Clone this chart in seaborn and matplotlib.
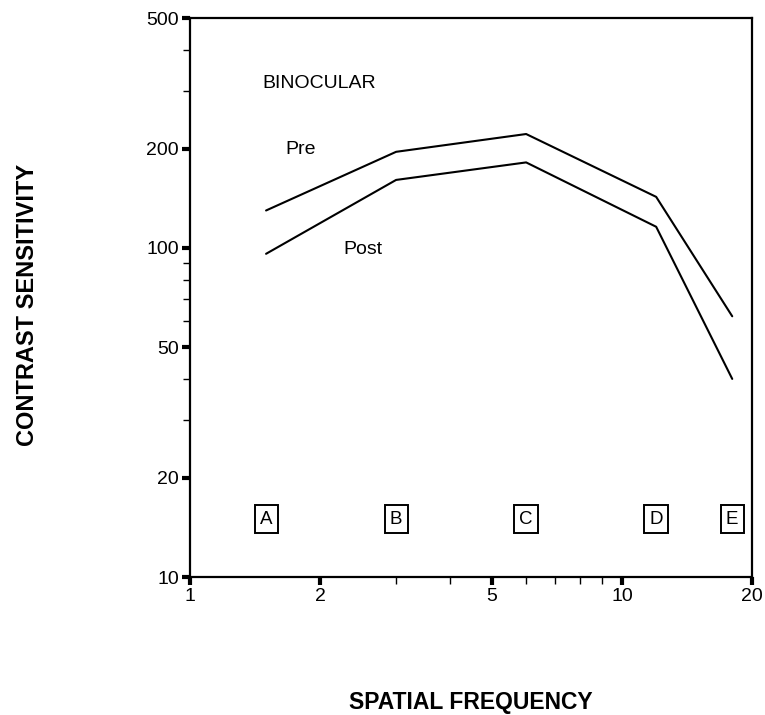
import numpy as np
import pandas as pd
import matplotlib
matplotlib.use("Agg")
import matplotlib.pyplot as plt
import seaborn as sns
from matplotlib.ticker import FixedLocator, NullFormatter

# Data
freq = [1.5, 3, 6, 12, 18]
pre = [130, 196, 222, 143, 62]
post = [96, 161, 182, 116, 40]
letters = ["A", "B", "C", "D", "E"]
letter_y = 15
x_ticks = [1, 2, 5, 10, 20]
y_ticks = [10, 20, 50, 100, 200, 500]

sns.set_theme(style="white")
plt.rcParams['font.family'] = ['Liberation Sans', 'DejaVu Sans']
plt.rcParams['text.color'] = 'black'

df = pd.DataFrame({
    "freq": freq * 2,
    "cs": pre + post,
    "cond": ["Pre"] * len(freq) + ["Post"] * len(freq),
})

fig = plt.figure(figsize=(7.65, 7.15), dpi=100)
ax = fig.add_axes([190/765, 1 - 577/715, (752-190)/765, (577-18)/715])

sns.lineplot(data=df, x="freq", y="cs", units="cond", estimator=None,
             color="black", linewidth=1.5, ax=ax, legend=False)

ax.set_xscale("log")
ax.set_yscale("log")
ax.set_xlim(1, 20)
ax.set_ylim(10, 500)

ax.xaxis.set_major_locator(FixedLocator(x_ticks))
ax.xaxis.set_minor_locator(FixedLocator([3, 4, 6, 7, 8, 9]))
ax.set_xticklabels([str(t) for t in x_ticks])
ax.xaxis.set_minor_formatter(NullFormatter())
ax.yaxis.set_major_locator(FixedLocator(y_ticks))
ax.yaxis.set_minor_locator(FixedLocator([30, 40, 60, 70, 80, 90, 300, 400]))
ax.set_yticklabels([str(t) for t in y_ticks])
ax.yaxis.set_minor_formatter(NullFormatter())

ax.tick_params(axis="both", which="major", direction="out", length=6, width=3,
               labelsize=14, colors="black", labelcolor="black", pad=2,
               bottom=True, left=True)
ax.tick_params(axis="both", which="minor", direction="out", length=5, width=1,
               colors="black", bottom=True, left=True)

for s in ax.spines.values():
    s.set_color("black")
    s.set_linewidth(1.6)

ax.set_xlabel("")
ax.set_ylabel("")

ax.text(1.468, 317, "BINOCULAR", fontsize=14, ha="left", va="center", color="black")
ax.text(1.66, 199, "Pre", fontsize=14, ha="left", va="center", color="black")
ax.text(2.26, 98.6, "Post", fontsize=14, ha="left", va="center", color="black")

for x, l in zip(freq, letters):
    ax.text(x, letter_y, l, fontsize=13.5, ha="center", va="center", color="black",
            bbox=dict(boxstyle="square,pad=0.28", fc="white", ec="black", lw=1.4))

fig.text(471/765, 1 - 702/715, "SPATIAL FREQUENCY", fontsize=16.5,
         fontweight="bold", ha="center", va="center", color="black")
fig.text(28/765, 1 - 305/715, "CONTRAST SENSITIVITY", fontsize=17,
         fontweight="bold", ha="center", va="center", rotation=90, color="black")

fig.savefig("out.png", dpi=100, facecolor="white")
